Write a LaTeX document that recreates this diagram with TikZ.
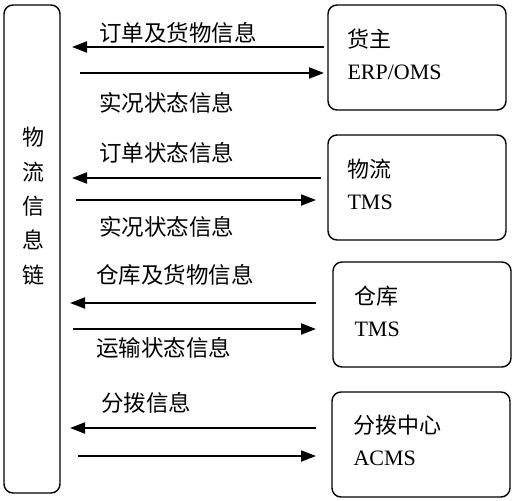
\documentclass[tikz,border=0pt]{standalone}
\usepackage{fontspec}
\setmainfont{Liberation Serif}
\newfontfamily\cjk{Noto Sans CJK SC}
\usetikzlibrary{arrows.meta}
\begin{document}
\begin{tikzpicture}[x=1pt,y=-1pt,
  sysbox/.style={draw,line width=1.4pt,rounded corners=9pt,minimum width=178pt,minimum height=105pt,inner sep=0pt},
  systxt/.style={anchor=west,align=left,inner sep=0pt,font=\fontsize{22}{32}\selectfont},
  lbl/.style={font=\cjk\fontsize{22.5}{26}\selectfont,inner sep=0pt,anchor=west},
  flow/.style={line width=2pt,-{Triangle[length=15pt,width=11pt]}}]
\useasboundingbox (0,0) rectangle (516,500);
% left chain box
\node[draw,line width=1.4pt,rounded corners=9pt,minimum width=56pt,minimum height=488pt] (chain) at (32,249) {};
\node[font=\cjk\fontsize{22}{34.3}\selectfont,align=center,inner sep=0pt] (chaintxt) at (33,206) {物\\流\\信\\息\\链};
% system boxes
\node[sysbox] (b1) at (417,57.5) {};
\node[sysbox] (b2) at (417,187.5) {};
\node[sysbox] (b3) at (422,314.5) {};
\node[sysbox] (b4) at (421,444.5) {};
\node[systxt] (b1t) at ([xshift=20pt,yshift=3pt]b1.west) {{\cjk 货主}\\ERP/OMS};
\node[systxt] (b2t) at ([xshift=20pt,yshift=3pt]b2.west) {{\cjk 物流}\\TMS};
\node[systxt] (b3t) at ([xshift=22pt,yshift=3pt]b3.west) {{\cjk 仓库}\\TMS};
\node[systxt] (b4t) at ([xshift=22pt,yshift=4pt]b4.west) {{\cjk 分拨中心}\\ACMS};
% arrow end points
\coordinate (r1a) at (324,47);  \coordinate (l1a) at (72,47);
\coordinate (l1b) at (80,73);   \coordinate (r1b) at (324,73);
\coordinate (r2a) at (321,178); \coordinate (l2a) at (72,178);
\coordinate (l2b) at (76,200);  \coordinate (r2b) at (316,200);
\coordinate (r3a) at (316,303); \coordinate (l3a) at (70,303);
\coordinate (l3b) at (73,329);  \coordinate (r3b) at (316,329);
\coordinate (r4a) at (316,428); \coordinate (l4a) at (70,428);
\coordinate (l4b) at (78,456);  \coordinate (r4b) at (316,456);
\draw[flow] (r1a) -- (l1a);
\draw[flow] (l1b) -- (r1b);
\draw[flow] (r2a) -- (l2a);
\draw[flow] (l2b) -- (r2b);
\draw[flow] (r3a) -- (l3a);
\draw[flow] (l3b) -- (r3b);
\draw[flow] (r4a) -- (l4a);
\draw[flow] (l4b) -- (r4b);
% labels
\node[lbl] (t1) at (99,33) {订单及货物信息};
\node[lbl] (t2) at (99,103) {实况状态信息};
\node[lbl] (t3) at (99,153) {订单状态信息};
\node[lbl] (t4) at (99,227) {实况状态信息};
\node[lbl] (t5) at (96,275) {仓库及货物信息};
\node[lbl] (t6) at (96,348) {运输状态信息};
\node[lbl] (t7) at (101,403) {分拨信息};
\end{tikzpicture}
\end{document}
